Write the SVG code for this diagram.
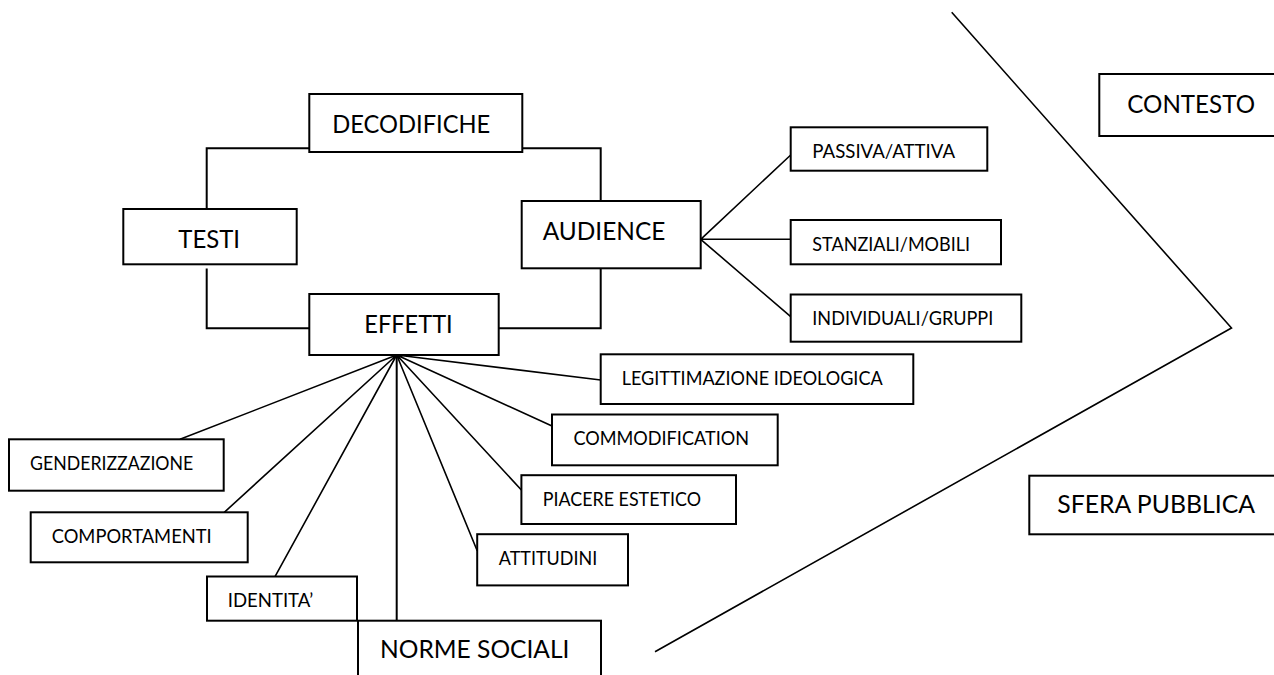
<svg xmlns="http://www.w3.org/2000/svg" width="1274" height="675" viewBox="0 0 1274 675">
<style>
.box{fill:#fff;stroke:#000;stroke-width:2}
.ln{fill:none;stroke:#000;stroke-width:2;stroke-linejoin:miter}
.dg{fill:none;stroke:#000;stroke-width:1.6}
.big{font-family:Lato,"Liberation Sans",sans-serif;font-size:25.5px;fill:#000}
.sm{font-family:Lato,"Liberation Sans",sans-serif;font-size:18.7px;fill:#000}
</style>
<rect width="1274" height="675" fill="#fff"/>
<g id="connectors">
<path class="ln" d="M206.7,209 V148.3 H309.3"/>
<path class="ln" d="M522.3,148.3 H600.7 V201"/>
<path class="ln" d="M206.7,268.5 V328.3 H309.3"/>
<path class="ln" d="M600.7,268.3 V328.3 H498.7"/>
<path class="dg" d="M700.7,239.3 L790.7,155 M700.7,239.3 L790.7,239.3 M700.7,239.3 L790.7,316.7"/>
<path class="dg" d="M396.7,355 L600.7,380 M396.7,355 L552,426 M396.7,355 L521.4,490 M396.7,355 L477.2,550.7 M396.7,355 L275,576.7 M396.7,355 L224.3,512.3 M396.7,355 L180,439.3"/>
<path class="ln" d="M396.7,355 V620.7"/>
<polyline class="dg" points="951.7,12.3 1231.5,328 655,651.7"/>
</g>
<g id="decodifiche"><rect class="box" x="309.3" y="94" width="213" height="58"/><text class="big" x="332.3" y="133.3" textLength="158" lengthAdjust="spacingAndGlyphs">DECODIFICHE</text></g>
<g id="testi"><rect class="box" x="123.3" y="209" width="173.4" height="55.3"/><text class="big" x="178.3" y="248.3" textLength="61.7" lengthAdjust="spacingAndGlyphs">TESTI</text></g>
<g id="audience"><rect class="box" x="521.7" y="201" width="179" height="67.3"/><text class="big" x="542.7" y="240" textLength="122.6" lengthAdjust="spacingAndGlyphs">AUDIENCE</text></g>
<g id="effetti"><rect class="box" x="309.3" y="294" width="189.4" height="61"/><text class="big" x="364.3" y="332.7" textLength="88.4" lengthAdjust="spacingAndGlyphs">EFFETTI</text></g>
<g id="passiva"><rect class="box" x="790.7" y="127.3" width="196.6" height="43.4"/><text class="sm" x="812.3" y="158.3" textLength="142.7" lengthAdjust="spacingAndGlyphs">PASSIVA/ATTIVA</text></g>
<g id="stanziali"><rect class="box" x="790.7" y="220" width="210.3" height="44.3"/><text class="sm" x="812.3" y="250.7" textLength="157.7" lengthAdjust="spacingAndGlyphs">STANZIALI/MOBILI</text></g>
<g id="individuali"><rect class="box" x="790.7" y="294.5" width="230.6" height="47.2"/><text class="sm" x="812.3" y="325" textLength="181" lengthAdjust="spacingAndGlyphs">INDIVIDUALI/GRUPPI</text></g>
<g id="contesto"><rect class="box" x="1099.3" y="74" width="190" height="62"/><text class="big" x="1127.3" y="112.7" textLength="127.7" lengthAdjust="spacingAndGlyphs">CONTESTO</text></g>
<g id="sfera"><rect class="box" x="1029.3" y="475.7" width="260" height="58.6"/><text class="big" x="1057.3" y="513.3" textLength="197.7" lengthAdjust="spacingAndGlyphs">SFERA PUBBLICA</text></g>
<g id="legittimazione"><rect class="box" x="600.7" y="354.3" width="312.6" height="49.7"/><text class="sm" x="621.7" y="385" textLength="261" lengthAdjust="spacingAndGlyphs">LEGITTIMAZIONE IDEOLOGICA</text></g>
<g id="commodification"><rect class="box" x="552" y="414.5" width="225.7" height="50.8"/><text class="sm" x="573.4" y="445" textLength="175.6" lengthAdjust="spacingAndGlyphs">COMMODIFICATION</text></g>
<g id="piacere"><rect class="box" x="521.4" y="475.2" width="214.6" height="48.8"/><text class="sm" x="542.8" y="505.7" textLength="158.2" lengthAdjust="spacingAndGlyphs">PIACERE ESTETICO</text></g>
<g id="attitudini"><rect class="box" x="477.2" y="534.2" width="150.8" height="51.2"/><text class="sm" x="498.8" y="565.3" textLength="98.4" lengthAdjust="spacingAndGlyphs">ATTITUDINI</text></g>
<g id="genderizzazione"><rect class="box" x="9" y="439.3" width="214.7" height="51.4"/><text class="sm" x="30" y="470" textLength="163.3" lengthAdjust="spacingAndGlyphs">GENDERIZZAZIONE</text></g>
<g id="comportamenti"><rect class="box" x="30.7" y="512.3" width="217" height="50"/><text class="sm" x="51.7" y="542.7" textLength="160" lengthAdjust="spacingAndGlyphs">COMPORTAMENTI</text></g>
<g id="identita"><rect class="box" x="207" y="576.5" width="150" height="44.2"/><text class="sm" x="227.7" y="607.3" textLength="85.6" lengthAdjust="spacingAndGlyphs">IDENTITA’</text></g>
<g id="norme"><rect class="box" x="358" y="620.7" width="243" height="70"/><text class="big" x="380" y="658.3" textLength="189.5" lengthAdjust="spacingAndGlyphs">NORME SOCIALI</text></g>
</svg>
